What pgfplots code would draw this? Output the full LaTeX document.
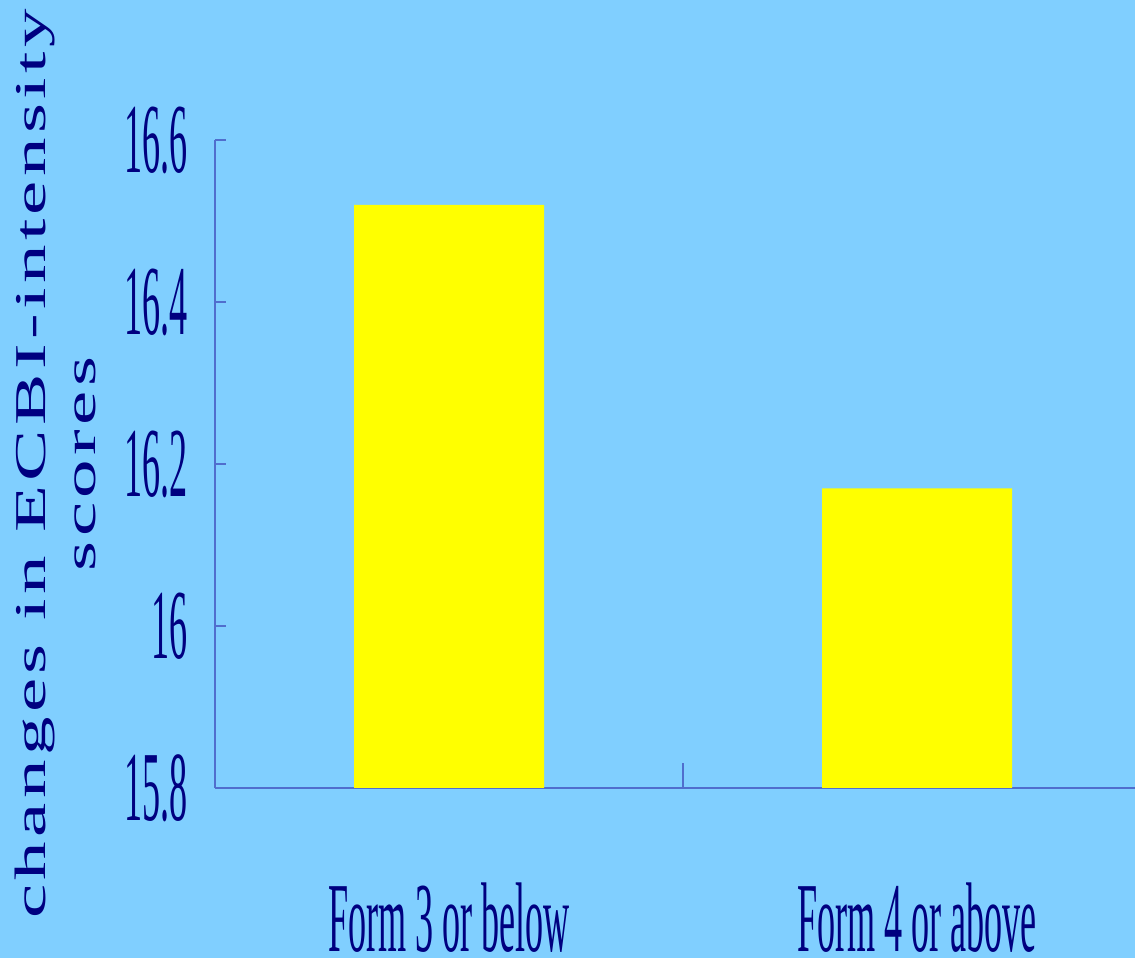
\documentclass[border=0pt]{standalone}
\usepackage{pgfplots}
\pgfplotsset{compat=1.18}
\usepackage{fontspec}
\newfontfamily\condfont[FakeStretch=0.365]{Liberation Serif}
\newfontfamily\widefont[FakeStretch=1.75,LetterSpace=10]{Liberation Serif}
\definecolor{bg}{RGB}{128,207,255}
\definecolor{navy}{RGB}{0,0,128}
\definecolor{axiscol}{RGB}{80,110,205}
\definecolor{baryellow}{RGB}{255,255,0}
\begin{document}
\begin{tikzpicture}[x=1pt,y=1pt]
\fill[bg] (0,0) rectangle (1135,958);
\begin{axis}[
  at={(215pt,170pt)}, anchor=south west,
  scale only axis, width=920pt, height=648pt,
  xmin=-0.5, xmax=1.4658, ymin=15.8, ymax=16.6,
  axis x line=bottom, axis y line=left,
  axis line style={-, draw=axiscol, line width=1.5pt},
  tick align=inside,
  major tick length=11pt,
  tick style={draw=axiscol, line width=1.5pt},
  xtick={0,1}, xticklabels={Form 3 or below, Form 4 or above},
  xtick style={draw=none},
  extra x ticks={0.5}, extra x tick labels={},
  extra x tick style={major tick length=25pt, xtick style={draw=axiscol, line width=1.5pt}},
  ytick={15.8,16,16.2,16.4,16.6},
  yticklabels={15.8,16,16.2,16.4,16.6},
  ticklabel style={font=\fontsize{99}{99}\selectfont\condfont, text=navy, inner sep=0pt},
  xticklabel style={yshift=-95pt},
  yticklabel style={xshift=-27pt},
]
\addplot[ybar, bar width=190pt, fill=baryellow, draw=none] coordinates {(0,16.52) (1,16.17)};
\end{axis}
\node[rotate=90, anchor=north, inner sep=0pt, align=center, text=navy, font=\fontsize{44}{50}\selectfont\widefont] at (15,494) {changes in ECBI-intensity\\scores};
\pgfresetboundingbox
\path[use as bounding box] (0,0) rectangle (1135,958);
\end{tikzpicture}
\end{document}
